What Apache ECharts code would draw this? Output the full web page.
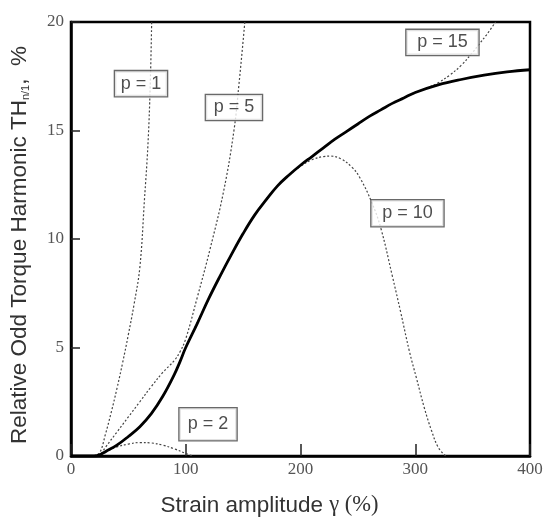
<!DOCTYPE html>
<html>
<head>
<meta charset="utf-8">
<script src="https://cdn.jsdelivr.net/npm/echarts@6/dist/echarts.min.js"></script>
<style>html,body{margin:0;padding:0;background:#fff}#c{width:551px;height:522px}</style>
</head>
<body>
<div id="c"></div>
<script>
// ---- data (strain amplitude %, harmonic %) ----
const xTicks = [0, 100, 200, 300, 400];
const yTicks = [0, 5, 10, 15, 20];

const measured = [
  [0,0],[20,0],[25,0.05],[30,0.2],[40,0.5],[50,0.9],[60,1.35],[70,1.95],[80,2.75],[90,3.75],
  [95,4.35],[100,5.0],[110,6.1],[120,7.25],[130,8.3],[140,9.3],[150,10.25],[160,11.1],[170,11.8],
  [180,12.45],[190,12.95],[200,13.4],[210,13.8],[220,14.2],[230,14.6],[240,14.95],[250,15.3],
  [260,15.65],[270,15.95],[280,16.25],[290,16.5],[300,16.75],[320,17.1],[340,17.35],[360,17.55],
  [380,17.7],[400,17.8]
];
const p1 = [[20,0],[25,0.15],[30,1.0],[35,2.0],[40,3.1],[45,4.3],[50,5.6],[55,7.0],[60,8.7],[64,11.8],[67,14.3],[69,17.0],[70.3,20]];
const p2 = [[20,0],[30,0.2],[40,0.42],[50,0.55],[60,0.62],[70,0.6],[80,0.5],[90,0.33],[100,0.12],[106,0]];
const p5 = [[20,0],[25,0.05],[30,0.4],[40,1.1],[50,1.8],[60,2.5],[70,3.2],[80,3.85],[90,4.4],[95,4.8],[100,5.4],[110,7.3],[121,9.5],[133,12.2],[142,15.0],[146.5,17.2],[151.5,20]];
const p10 = [[0,0],[20,0],[25,0.05],[30,0.2],[40,0.5],[50,0.9],[60,1.35],[70,1.95],[80,2.75],[90,3.75],[100,5.0],[110,6.1],[120,7.25],[130,8.3],[140,9.3],[150,10.25],[160,11.1],[170,11.8],[180,12.45],[190,12.95],[200,13.35],[210,13.65],[220,13.8],[226,13.82],[235,13.7],[245,13.3],[252,12.8],[262,11.7],[270,10.5],[280,8.3],[287,6.7],[295,4.8],[301,3.6],[308,2.2],[314,1.2],[320,0.4],[326.5,0]];
const p15 = [[0,0],[20,0],[25,0.05],[30,0.2],[40,0.5],[50,0.9],[60,1.35],[70,1.95],[80,2.75],[90,3.75],[100,5.0],[120,7.25],[140,9.3],[160,11.1],[180,12.45],[200,13.4],[220,14.2],[240,14.95],[260,15.65],[280,16.25],[300,16.75],[310,16.95],[320,17.2],[330,17.55],[340,18.0],[350,18.6],[356,19.0],[362,19.4],[370,20]];
const curveLabels = [
  [61, 17.16, 'p = 1'],
  [142, 16.06, 'p = 5'],
  [119.4, 1.46, 'p = 2'],
  [293.2, 11.19, 'p = 10'],
  [323.7, 19.06, 'p = 15']
];

// box sizes of the annotation labels (style only)
const boxW = {'p = 1':50, 'p = 5':54, 'p = 2':55, 'p = 10':70, 'p = 15':70};
const boxH = {'p = 1':23, 'p = 5':23, 'p = 2':30, 'p = 10':24, 'p = 15':23};

const dotted = {color:'#444', width:1.2, type:[2,2]};
function dotSeries(d){
  return {type:'line', data:d, smooth:0.4, showSymbol:false, silent:true, lineStyle:dotted, z:2};
}
const chart = echarts.init(document.getElementById('c'), null, {renderer:'canvas'});
chart.setOption({
  animation:false,
  backgroundColor:'#fff',
  grid:{left:71, right:21, top:22, bottom:63, show:true, borderColor:'#000', borderWidth:2.5, backgroundColor:'transparent'},
  xAxis:{
    type:'value', min:0, max:400, interval:100,
    axisLine:{show:true, lineStyle:{color:'#000', width:2.5}},
    axisTick:{show:true, inside:true, length:12, lineStyle:{color:'#222', width:1.5}},
    splitLine:{show:false},
    axisLabel:{color:'#555', fontFamily:'Liberation Serif', fontSize:17, margin:5,
      formatter:v=>xTicks.includes(v)?String(v):''},
    name:'{a|Strain amplitude }{b|γ (%)}', nameLocation:'middle', nameGap:38,
    nameTextStyle:{padding:[0,62,0,0], rich:{
      a:{fontFamily:'Liberation Sans', fontSize:22.5, color:'#333'},
      b:{fontFamily:'Liberation Serif', fontSize:22.5, color:'#333'}}}
  },
  yAxis:{
    type:'value', min:0, max:20, interval:5,
    axisLine:{show:true, lineStyle:{color:'#000', width:2.5}},
    axisTick:{show:true, inside:true, length:9, lineStyle:{color:'#222', width:1.5}},
    splitLine:{show:false},
    axisLabel:{color:'#555', fontFamily:'Liberation Serif', fontSize:17, margin:7,
      formatter:v=>yTicks.includes(v)?String(v):''},
    name:'{a|Relative Odd Torque Harmonic TH}{s|n/1}{a|,  %}', nameLocation:'middle', nameGap:40,
    nameTextStyle:{padding:[0,12,0,0], rich:{
      a:{fontFamily:'Liberation Sans', fontSize:22.5, color:'#333'},
      s:{fontFamily:'Liberation Sans', fontSize:11, color:'#333', verticalAlign:'bottom', padding:[9,0,0,0]}}}
  },
  series:[
    dotSeries(p1), dotSeries(p2), dotSeries(p5), dotSeries(p10), dotSeries(p15),
    {type:'line', data:measured, smooth:0.4, showSymbol:false, silent:true,
      lineStyle:{color:'#000', width:2.8}, z:3},
    {type:'scatter', symbolSize:0, silent:true, z:5,
      data:curveLabels.map(d=>({value:d, label:{width:boxW[d[2]], height:boxH[d[2]]}})),
      label:{show:true, position:'inside', formatter:p=>p.data.value[2], align:'center', verticalAlign:'middle',
        fontFamily:'Liberation Sans', fontSize:18, color:'#222', lineHeight:22,
        backgroundColor:'#fff', borderColor:'#444', borderWidth:1.3, padding:[1,1,1,1]}}
  ]
});
</script>
</body>
</html>
